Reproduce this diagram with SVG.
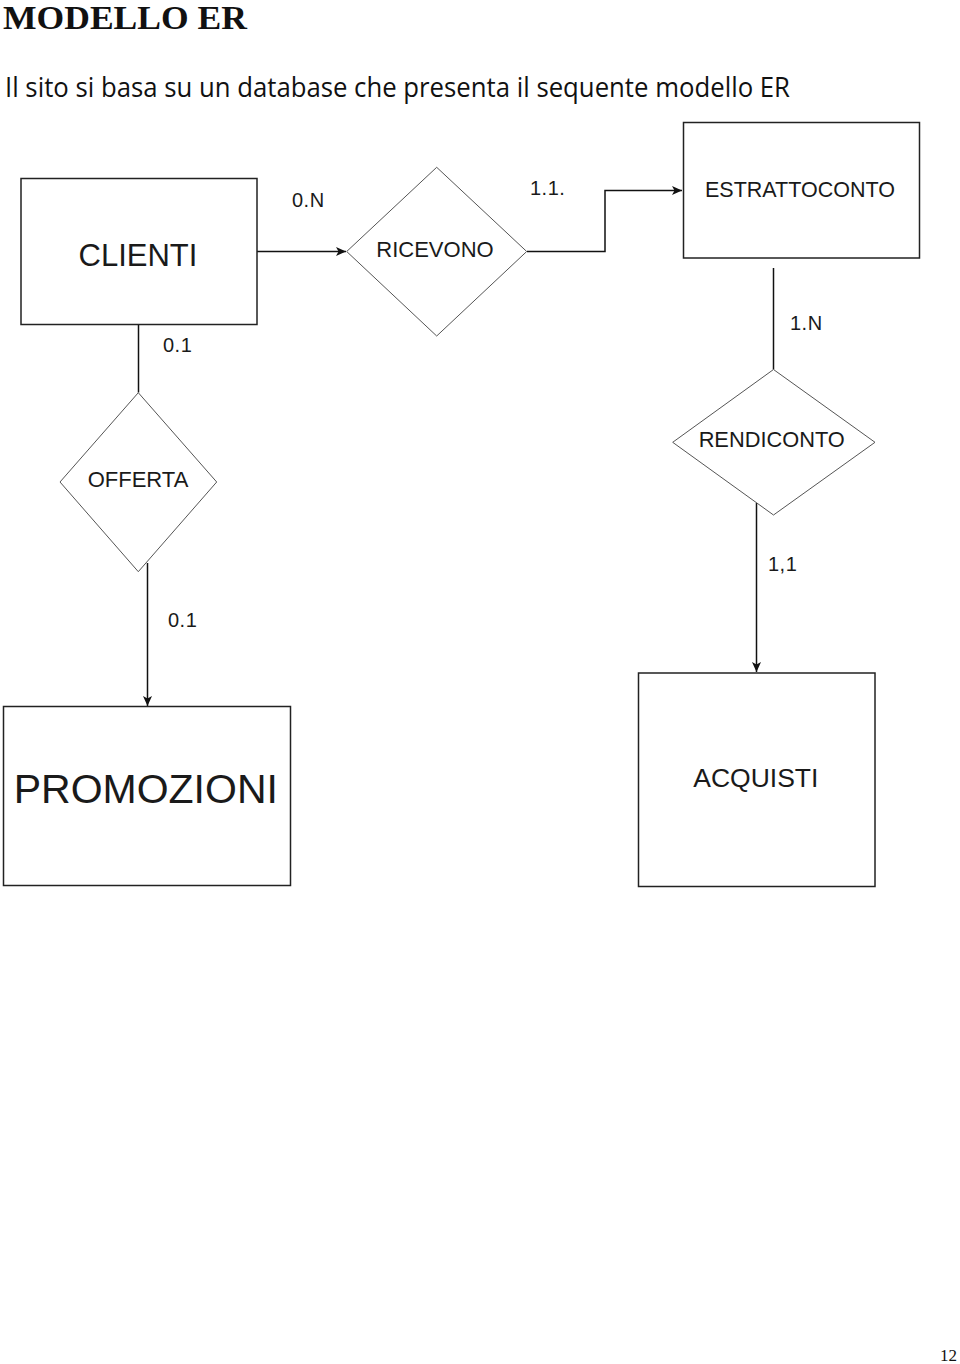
<svg xmlns="http://www.w3.org/2000/svg" width="960" height="1364" viewBox="0 0 960 1364">
<style>
.ent{fill:#fff;stroke:#222;stroke-width:1.5}
.rel{fill:#fff;stroke:#555;stroke-width:1}
.lbl{font-family:"Liberation Sans",Arial,sans-serif;fill:#1a1a1a;text-anchor:middle}
.card{font-family:"Liberation Sans",Arial,sans-serif;fill:#1a1a1a;font-size:20px;letter-spacing:0.5px}
.con{fill:none;stroke:#111;stroke-width:1.5}
</style>
<defs>
<marker id="arr" markerWidth="12" markerHeight="10" refX="10" refY="5" orient="auto" markerUnits="userSpaceOnUse">
<path d="M0,0.5 L10,5 L0,9.5 L2.5,5 Z" fill="#111"/>
</marker>
</defs>
<rect width="960" height="1364" fill="#fff"/>
<text x="3" y="29" font-family="'Liberation Serif','Times New Roman',serif" font-weight="bold" font-size="34" fill="#111" textLength="244" lengthAdjust="spacingAndGlyphs">MODELLO ER</text>
<text x="5" y="97" font-family="'Open Sans','Liberation Sans',sans-serif" font-size="26.5" fill="#111" textLength="785" lengthAdjust="spacingAndGlyphs">Il sito si basa su un database che presenta il sequente modello ER</text>

<g id="connectors">
<path class="con" d="M257,251.5 H346" marker-end="url(#arr)"/>
<path class="con" d="M527,251.5 H605 V190.5 H682" marker-end="url(#arr)"/>
<path class="con" d="M773.5,268 V369.5"/>
<path class="con" d="M756.5,503 V672" marker-end="url(#arr)"/>
<path class="con" d="M138.5,324 V392.5"/>
<path class="con" d="M147.5,563 V706" marker-end="url(#arr)"/>
<text class="card" x="292" y="207">0.N</text>
<text class="card" x="530" y="195">1.1.</text>
<text class="card" x="790" y="330">1.N</text>
<text class="card" x="768" y="571">1,1</text>
<text class="card" x="163" y="352">0.1</text>
<text class="card" x="168" y="627">0.1</text>
</g>

<g id="clienti">
<rect class="ent" x="21" y="178.5" width="236" height="146"/>
<text class="lbl" x="138" y="266" font-size="31">CLIENTI</text>
</g>
<g id="ricevono">
<polygon class="rel" points="436.7,167.3 526.7,251.5 436.7,336 346.7,251.5"/>
<text class="lbl" x="435" y="256.7" font-size="22">RICEVONO</text>
</g>
<g id="estrattoconto">
<rect class="ent" x="683.5" y="122.5" width="236" height="135.5"/>
<text class="lbl" x="800" y="196.7" font-size="21.5">ESTRATTOCONTO</text>
</g>
<g id="rendiconto">
<polygon class="rel" points="773.5,369.5 875,442.3 773.5,515 672.7,442.3"/>
<text class="lbl" x="771.7" y="447.3" font-size="21.8">RENDICONTO</text>
</g>
<g id="acquisti">
<rect class="ent" x="638.5" y="673" width="236.5" height="213.5"/>
<text class="lbl" x="755.8" y="786.7" font-size="26.5">ACQUISTI</text>
</g>
<g id="offerta">
<polygon class="rel" points="138.3,392.7 216.7,482 138.3,571.7 60,482"/>
<text class="lbl" x="138" y="486.7" font-size="22">OFFERTA</text>
</g>
<g id="promozioni">
<rect class="ent" x="3.5" y="706.5" width="287" height="179"/>
<text class="lbl" x="145.8" y="803.3" font-size="41">PROMOZIONI</text>
</g>
<text x="957" y="1361" text-anchor="end" font-family="'Liberation Serif',serif" font-size="17" fill="#111">12</text>
</svg>
